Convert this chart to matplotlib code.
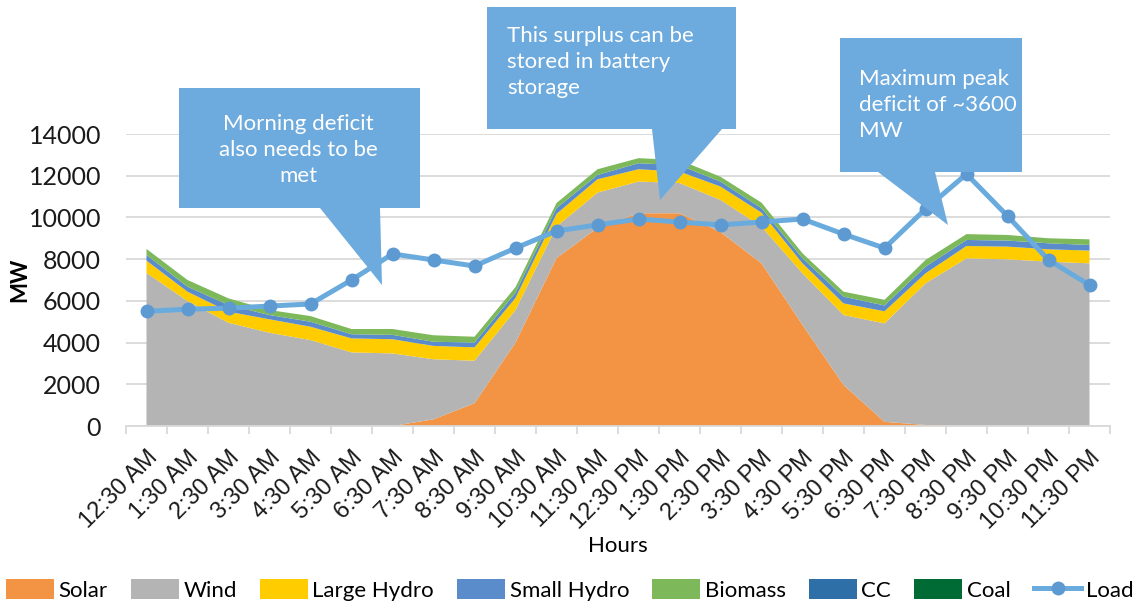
import matplotlib

matplotlib.use("Agg")

import matplotlib.pyplot as plt
from matplotlib.patches import Polygon

hours = [
    "12:30 AM", "1:30 AM", "2:30 AM", "3:30 AM", "4:30 AM", "5:30 AM",
    "6:30 AM", "7:30 AM", "8:30 AM", "9:30 AM", "10:30 AM", "11:30 AM",
    "12:30 PM", "1:30 PM", "2:30 PM", "3:30 PM", "4:30 PM", "5:30 PM",
    "6:30 PM", "7:30 PM", "8:30 PM", "9:30 PM", "10:30 PM", "11:30 PM",
]

# MW per hour
solar = [0, 0, 0, 0, 0, 0, 0, 320, 1090, 4000, 8050, 9500,
         10200, 10200, 9300, 7800, 4850, 1970, 200, 50, 0, 0, 0, 0]
wind = [7340, 5990, 4950, 4470, 4120, 3530, 3480, 2880, 2040, 1560, 1510, 1690,
        1520, 1450, 1540, 1760, 2470, 3350, 4720, 6790, 8040, 7990, 7880, 7800]
large_hydro = [590, 450, 530, 645, 640, 670, 680, 640, 640, 580, 610, 640,
               590, 550, 640, 670, 480, 560, 580, 480, 590, 610, 590, 610]
small_hydro = [270, 240, 320, 205, 240, 200, 210, 200, 230, 250, 280, 205,
               290, 300, 240, 210, 240, 320, 280, 320, 290, 290, 290, 270]
biomass = [290, 320, 320, 240, 270, 250, 280, 310, 280, 270, 240, 275,
           240, 250, 230, 270, 240, 240, 270, 320, 280, 270, 240, 270]
cc = [0] * 24
coal = [0] * 24
load = [5500, 5600, 5650, 5750, 5850, 7000, 8250, 7960, 7670, 8530, 9350, 9640,
        9925, 9780, 9640, 9780, 9925, 9200, 8530, 10400, 12080, 10070, 7960, 6760]

labels = ["Solar", "Wind", "Large Hydro", "Small Hydro", "Biomass", "CC", "Coal"]
colors = ["#F29443", "#B4B4B4", "#FFCC00", "#5A8BCB", "#7DB85B", "#2E6FA8", "#006B35"]
load_color = "#6AABDE"

notes = [
    "Morning deficit\nalso needs to be\nmet",
    "This surplus can be\nstored in battery\nstorage",
    "Maximum peak\ndeficit of ~3600\nMW",
]

W, H = 1148, 602
label_font = ["Lato", "DejaVu Sans"]

fig = plt.figure(figsize=(W / 100, H / 100), dpi=100)
ax = fig.add_axes([126 / W, 1 - 426 / H, (1110 - 126) / W, (426 - 134) / H])

x = list(range(len(hours)))
areas = ax.stackplot(x, solar, wind, large_hydro, small_hydro, biomass, cc, coal,
                     colors=colors, labels=labels, lw=0)
(load_line,) = ax.plot(x, load, color=load_color, lw=3.6, marker="o", ms=9,
                       mfc="#5E9AD2", mec="#5E9AD2", label="Load", zorder=5)

ax.set_xlim(-0.5, len(hours) - 0.5)
ax.set_ylim(0, 14000)
ax.set_yticks(range(0, 14001, 2000))
ax.grid(axis="y", color="#D9D9D9", lw=1.3)
ax.set_axisbelow(True)
for side in ["top", "right", "left"]:
    ax.spines[side].set_visible(False)
ax.spines["bottom"].set_color("#D9D9D9")
ax.spines["bottom"].set_linewidth(1.3)

ax.set_xticks(x)
ax.set_xticklabels(hours, rotation=45, ha="right", rotation_mode="anchor",
                   fontsize=17, family="Liberation Sans", color="#1A1A1A")
ax.set_xticks([i - 0.5 for i in range(len(hours) + 1)], minor=True)
ax.tick_params(axis="x", which="major", length=0, pad=15)
ax.tick_params(axis="x", which="minor", length=6, color="#D9D9D9", width=1.3)
ax.tick_params(axis="y", length=0, pad=18, labelsize=18, labelcolor="#1A1A1A")
for t in ax.get_yticklabels():
    t.set_family(label_font)

ax.set_ylabel("MW", fontsize=16, fontweight="bold", family=label_font)
ax.yaxis.set_label_coords((30 - 126) / 984, 0.5)
ax.set_xlabel("Hours", fontsize=16, family=label_font)
ax.xaxis.set_label_coords((618 - 126) / 984, (426 - 536) / 292)


def px(pts):
    return [(a / W, 1 - b / H) for a, b in pts]


# callout boxes (pixel layout: rectangle + pointer)
shapes = [
    [(179, 88), (420, 88), (420, 208), (380, 208), (382, 285), (320, 208), (179, 208)],
    [(487, 7), (736, 7), (736, 129), (722, 129), (660, 200), (652, 129), (487, 129)],
    [(840, 38), (1022, 38), (1022, 172), (935, 172), (948, 225), (878, 172), (840, 172)],
]
text_pos = [(298, 150, "center"), (507, 62, "left"), (859, 105, "left")]
for shape, (tx, ty, ha), note in zip(shapes, text_pos, notes):
    fig.add_artist(Polygon(px(shape), closed=True, transform=fig.transFigure,
                           facecolor="#6DAADD", edgecolor="none", zorder=10))
    fig.text(tx / W, 1 - ty / H, note, color="white", fontsize=16, family=label_font,
             ha=ha, va="center", linespacing=1.38, zorder=11)

fig.legend(handles=list(areas) + [load_line], loc="center", bbox_to_anchor=(0.4965, 1 - 590 / H),
           ncol=8, frameon=False, prop={"family": label_font, "size": 16},
           handlelength=2.15, handleheight=1.0, handletextpad=0.2, columnspacing=1.05,
           borderaxespad=0, borderpad=0)

fig.savefig("out.png", dpi=100)
